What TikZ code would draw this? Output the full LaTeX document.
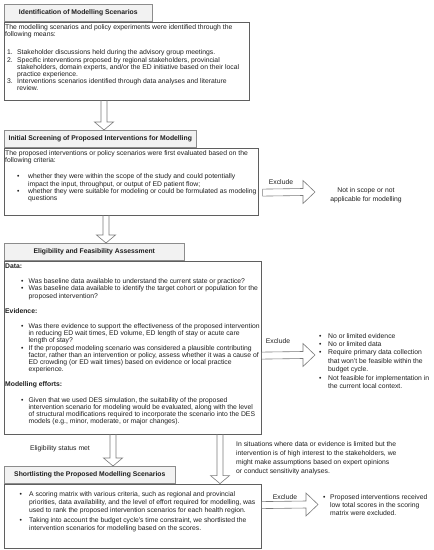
\documentclass[tikz,border=0pt]{standalone}
\usepackage{fontspec}
\setmainfont{Liberation Sans}
\usetikzlibrary{calc}

\definecolor{boxline}{HTML}{5F5F5F}
\definecolor{headline}{HTML}{8C8C8C}
\definecolor{headfill}{HTML}{F2F2F2}
\definecolor{arrowline}{HTML}{7A7A7A}
\definecolor{txt}{HTML}{1E1E1E}

\newcommand{\itembul}[2]{\hspace*{#1}\makebox[#2][l]{\textbullet}}
\newcommand{\itemnum}[3]{\hspace*{#1}\makebox[#2][l]{#3}}
\newcommand{\itemcont}[1]{\hspace*{#1}}
\def\blockdown(#1)(#2){\draw[blockarrow] ($(#1)+(-3,0)$) -- ($(#2)+(-3,-8)$) -- ($(#2)+(-9.5,-8)$) -- (#2) -- ($(#2)+(9.5,-8)$) -- ($(#2)+(3,-8)$) -- ($(#1)+(3,0)$);}
\def\blockright(#1)(#2){\draw[blockarrow] ($(#1)+(0,-3.5)$) -- ($(#2)+(-12,-3.5)$) -- ($(#2)+(-12,-11.5)$) -- (#2) -- ($(#2)+(-12,11.5)$) -- ($(#2)+(-12,3.5)$) -- ($(#1)+(0,3.5)$) -- cycle;}

\tikzset{
  headbox/.style={draw=headline, fill=headfill, line width=0.6pt, minimum height=17pt, inner sep=0pt, anchor=north west, font=\bfseries\fontsize{6.8}{7.2}\selectfont, text=txt},
  bodybox/.style={draw=boxline, line width=0.6pt, inner sep=0pt, anchor=north west},
  bodytext/.style={anchor=north west, align=left, inner sep=0pt, font=\fontsize{6.8}{7.2}\selectfont, text=txt},
  sidetext/.style={align=left, inner sep=0pt, font=\fontsize{6.8}{8.4}\selectfont, text=txt},
  blockarrow/.style={draw=arrowline, line width=0.6pt}
}

\begin{document}
\begin{tikzpicture}[x=1pt,y=-1pt]
		%%%%% START %%%%%
		\useasboundingbox (0,0) rectangle (434,550);
		
		% identification
		\node[headbox, minimum width=148pt] (t1) at (4,4) {Identification of Modelling Scenarios};
		\node[bodybox, minimum width=245pt, minimum height=78pt] (b1) at (t1.south west) {};
		\node[bodytext] (b1txt) at ([shift={(1,3)}]b1.north west) {The modelling scenarios and policy experiments were identified through the\\
			following means:\\[10.8pt]
			\itemnum{2pt}{10pt}{1.}Stakeholder discussions held during the advisory group meetings.\\
			\itemnum{2pt}{10pt}{2.}Specific interventions proposed by regional stakeholders, provincial\\
			\itemcont{12pt}stakeholders, domain experts, and/or the ED initiative based on their local\\
			\itemcont{12pt}practice experience.\\
			\itemnum{2pt}{10pt}{3.}Interventions scenarios identified through data analyses and literature\\
			\itemcont{12pt}review.};
		
		% screening
		\node[headbox, minimum width=192pt] (t2) at (4,130) {Initial Screening of Proposed Interventions for Modelling};
		\node[bodybox, minimum width=254pt, minimum height=67pt] (b2) at (t2.south west) {};
		\node[bodytext] (b2txt) at ([shift={(1,3)}]b2.north west) {The proposed interventions or policy scenarios were first evaluated based on the\\
			following criteria:\\[8.8pt]
			\itembul{12pt}{11pt}whether they were within the scope of the study and could potentially\\
			\itemcont{23pt}impact the input, throughput, or output of ED patient flow;\\
			\itembul{12pt}{11pt}whether they were suitable for modeling or could be formulated as modeling\\
			\itemcont{23pt}questions};
		
		% eligibility
		\node[headbox, minimum width=180pt] (t3) at (4,243) {Eligibility and Feasibility Assessment};
		\node[bodybox, minimum width=257pt, minimum height=173pt] (b3) at (t3.south west) {};
		\node[bodytext] (b3txt) at ([shift={(1,3)}]b3.north west) {\textbf{Data:}\\[8pt]
			\itembul{16pt}{7.5pt}Was baseline data available to understand the current state or practice?\\
			\itembul{16pt}{7.5pt}Was baseline data available to identify the target cohort or population for the\\
			\itemcont{23.5pt}proposed intervention?\\[8pt]
			\textbf{Evidence:}\\[8pt]
			\itembul{16pt}{7.5pt}Was there evidence to support the effectiveness of the proposed intervention\\
			\itemcont{23.5pt}in reducing ED wait times, ED volume, ED length of stay or acute care\\
			\itemcont{23.5pt}length of stay?\\
			\itembul{16pt}{7.5pt}If the proposed modeling scenario was considered a plausible contributing\\
			\itemcont{23.5pt}factor, rather than an intervention or policy, assess whether it was a cause of\\
			\itemcont{23.5pt}ED crowding (or ED wait times) based on evidence or local practice\\
			\itemcont{23.5pt}experience.\\[8pt]
			\textbf{Modelling efforts:}\\[8pt]
			\itembul{16pt}{7.5pt}Given that we used DES simulation, the suitability of the proposed\\
			\itemcont{23.5pt}intervention scenario for modeling would be evaluated, along with the level\\
			\itemcont{23.5pt}of structural modifications required to incorporate the scenario into the DES\\
			\itemcont{23.5pt}models (e.g., minor, moderate, or major changes).};
		
		% shortlisting
		\node[headbox, minimum width=171pt] (t4) at (4,466) {Shortlisting the Proposed Modelling Scenarios};
		\node[bodybox, minimum width=257pt, minimum height=64pt] (b4) at (t4.south west) {};
		\node[bodytext, font=\fontsize{6.8}{8}\selectfont] (b4txt) at ([shift={(1,8)}]b4.north west) {\itembul{14.5pt}{9.5pt}A scoring matrix with various criteria, such as regional and provincial\\
			\itemcont{24pt}priorities, data availability, and the level of effort required for modelling, was\\
			\itemcont{24pt}used to rank the proposed intervention scenarios for each health region.\\[2pt]
			\itembul{14.5pt}{9.5pt}Taking into account the budget cycle's time constraint, we shortlisted the\\
			\itemcont{24pt}intervention scenarios for modelling based on the scores.};
		
		% arrows down
		\coordinate (a1s) at ([xshift=100pt]b1.south west);
		\coordinate (a1e) at ([xshift=100pt]t2.north west);
		\coordinate (a2s) at ([xshift=102pt]b2.south west);
		\coordinate (a2e) at ([xshift=102pt]t3.north west);
		\coordinate (a3s) at ([xshift=109pt]b3.south west);
		\coordinate (a3e) at ([xshift=109pt]t4.north west);
		\coordinate (a4s) at ([xshift=216pt]b3.south west);
		\coordinate (a4e) at ([xshift=216pt]b4.north west);
		\blockdown(a1s)(a1e)
		\blockdown(a2s)(a2e)
		\blockdown(a3s)(a3e)
		\blockdown(a4s)(a4e)
		
		\node[sidetext] (met) at (60,449) {Eligibility status met};
		\node[sidetext, anchor=north west, font=\fontsize{6.8}{9}\selectfont] (note) at (236,441) {In situations where data or evidence is limited but the\\
			intervention is of high interest to the stakeholders, we\\
			might make assumptions based on expert opinions\\
			or conduct sensitivity analyses.};
		
		% exclude arrows
		\coordinate (x1s) at ([shift={(4,45)}]b2.north east);
		\coordinate (x1e) at (315,192);
		\coordinate (x2s) at ([shift={(0,95)}]b3.north east);
		\coordinate (x2e) at (315,355);
		\coordinate (x3s) at ([shift={(0,21.5)}]b4.north east);
		\coordinate (x3e) at (318,504.5);
		\blockright(x1s)(x1e)
		\blockright(x2s)(x2e)
		\blockright(x3s)(x3e)
		
		\node[sidetext] (ex1) at (281,182) {Exclude};
		\node[sidetext] (ex2) at (278,341) {Exclude};
		\node[sidetext] (ex3) at (285,497) {Exclude};
		
		\node[sidetext, anchor=north, align=center, font=\fontsize{6.8}{9}\selectfont] (out1) at (366,187) {Not in scope or not\\applicable for modelling};
		\node[sidetext, anchor=north west] (out2) at (319,333) {\itembul{0pt}{9pt}No or limited evidence\\
			\itembul{0pt}{9pt}No or limited data\\
			\itembul{0pt}{9pt}Require primary data collection\\
			\itemcont{9pt}that won't be feasible within the\\
			\itemcont{9pt}budget cycle.\\
			\itembul{0pt}{9pt}Not feasible for implementation in\\
			\itemcont{9pt}the current local context.};
		\node[sidetext, anchor=north west, font=\fontsize{6.8}{8}\selectfont] (out3) at (323,494) {\itembul{0pt}{7pt}Proposed interventions received\\
			\itemcont{7pt}low total scores in the scoring\\
			\itemcont{7pt}matrix were excluded.};
		
		%%%%% END %%%%%
	\end{tikzpicture}
\end{document}
